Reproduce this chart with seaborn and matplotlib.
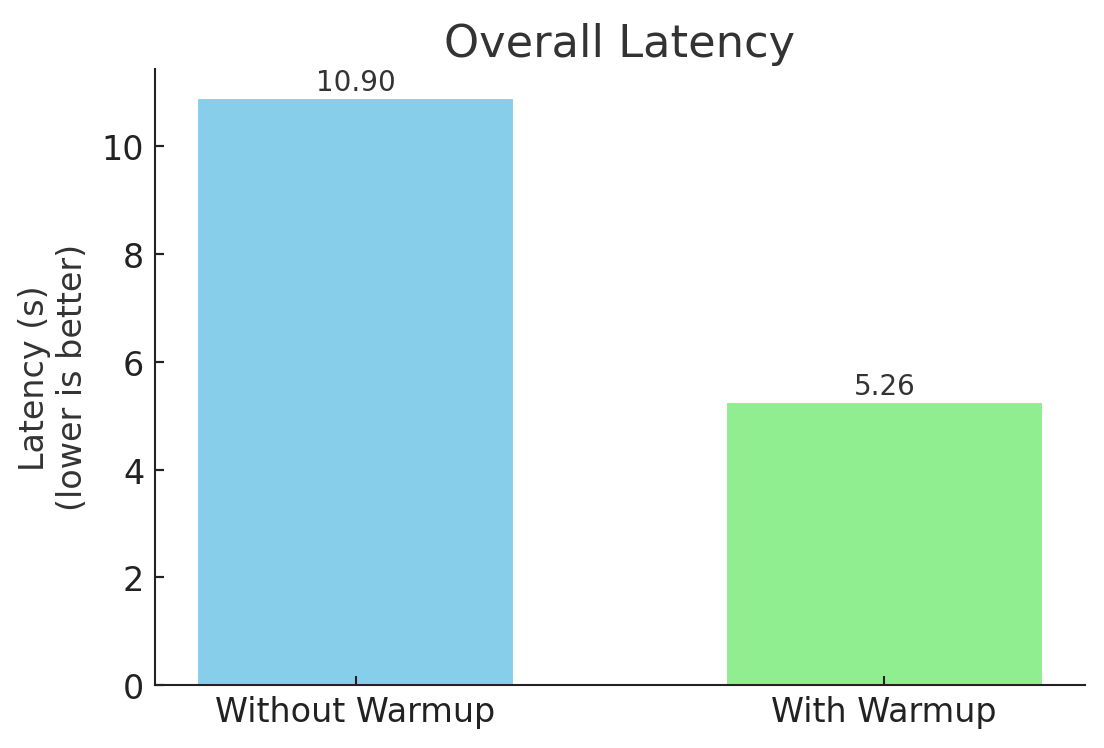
import pandas as pd
import seaborn as sns
import matplotlib.pyplot as plt
import matplotlib.transforms as mtransforms

sns.set_theme(style="ticks", rc={
    "xtick.direction": "in", "ytick.direction": "in",
    "xtick.major.size": 4.5, "ytick.major.size": 4.5,
    "xtick.major.width": 1, "ytick.major.width": 1,
    "xtick.major.pad": 5, "ytick.major.pad": 5,
    "xtick.color": "#222222", "ytick.color": "#222222",
    "axes.edgecolor": "#222222", "axes.linewidth": 1,
    "axes.axisbelow": False,
})
plt.rcParams["font.family"] = ["DejaVu Sans"]

conditions = ["Without Warmup", "With Warmup"]
latency = [10.90, 5.26]
bar_colors = ["#87CEEB", "#90EE90"]

df = pd.DataFrame({"condition": conditions, "latency": latency})

fig = plt.figure(figsize=(7.36, 4.9933), dpi=150)
ax = fig.add_axes([0.140, 0.084, 0.843, 0.823])

sns.barplot(data=df, x="condition", y="latency", hue="condition",
            palette=bar_colors, width=0.6, legend=False, ax=ax, saturation=1)

for cont in ax.containers:
    ax.bar_label(cont, fmt="%.2f", fontsize=13.3, color="#333333", padding=1)

ax.set_xlim(-0.38, 1.38)
ax.set_ylim(0, 11.445)
ax.set_yticks([0, 2, 4, 6, 8, 10])
ax.set_title("Overall Latency", fontsize=21.5, color="#333333")
ax.set_xlabel("")
ax.set_ylabel("Latency (s)\n(lower is better)", fontsize=16, color="#333333", labelpad=6)
sns.despine(ax=ax)
ax.tick_params(axis="both", labelsize=16)

# make sure the inward y ticks show up
trans = mtransforms.blended_transform_factory(ax.transAxes, ax.transData)
for v in ax.get_yticks():
    ax.plot([0, 0.0098], [v, v], transform=trans, color="#222222",
            linewidth=1, clip_on=False, zorder=5, solid_capstyle="butt")

fig.savefig("out.png", dpi=150)
